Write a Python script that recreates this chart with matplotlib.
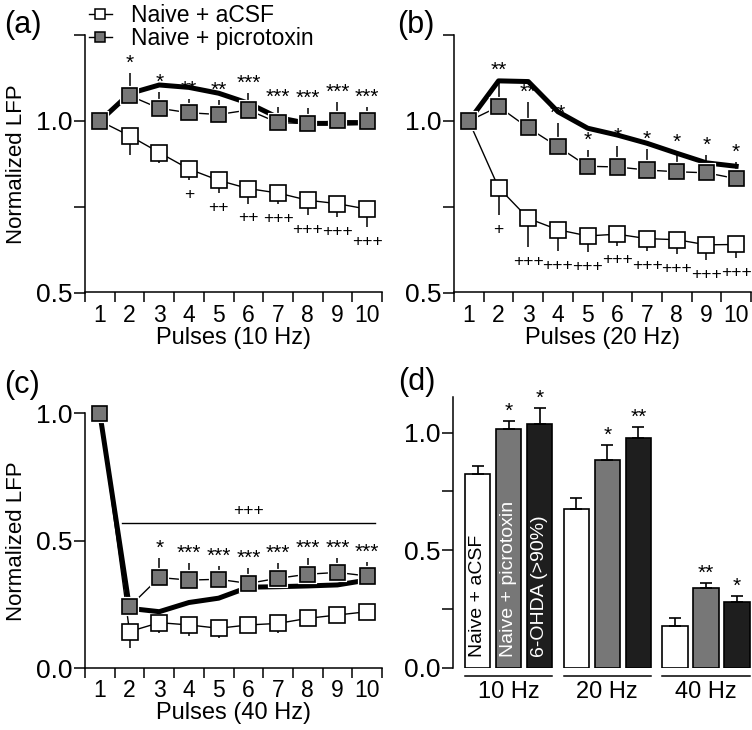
import numpy as np
import matplotlib
matplotlib.use("Agg")
import matplotlib.pyplot as plt
import matplotlib.patheffects as pe
from matplotlib.lines import Line2D

plt.rcParams['font.family'] = ['Liberation Sans', 'DejaVu Sans']

# ---------------- data ----------------
pulses = np.arange(1, 11)

a_acsf = [1.0, 0.957, 0.908, 0.860, 0.827, 0.803, 0.790, 0.769, 0.759, 0.743]
a_acsf_err = [0, 0.057, 0.030, 0.033, 0.037, 0.044, 0.032, 0.044, 0.039, 0.052]
a_picro = [1.0, 1.074, 1.037, 1.024, 1.019, 1.032, 0.995, 0.993, 1.001, 1.0]
a_picro_err = [0, 0.067, 0.049, 0.039, 0.042, 0.049, 0.045, 0.044, 0.055, 0.040]
a_ohda = [1.0, 1.080, 1.105, 1.098, 1.081, 1.052, 1.010, 0.993, 0.993, 0.995]
a_stars = ['', '*', '*', '**', '**', '***', '***', '***', '***', '***']
a_plus = ['', '', '', '+', '++', '++', '+++', '+++', '+++', '+++']

b_acsf = [1.0, 0.806, 0.716, 0.683, 0.665, 0.670, 0.657, 0.654, 0.639, 0.640]
b_acsf_err = [0, 0.081, 0.083, 0.062, 0.047, 0.033, 0.036, 0.043, 0.045, 0.040]
b_picro = [1.0, 1.042, 0.980, 0.925, 0.868, 0.866, 0.857, 0.852, 0.849, 0.832]
b_picro_err = [0, 0.078, 0.076, 0.068, 0.047, 0.062, 0.062, 0.058, 0.052, 0.049]
b_ohda = [1.0, 1.117, 1.115, 1.027, 0.979, 0.959, 0.935, 0.906, 0.878, 0.868]
b_stars = ['', '**', '**', '**', '*', '*', '*', '*', '*', '*']
b_plus = ['', '+', '+++', '+++', '+++', '+++', '+++', '+++', '+++', '+++']

c_acsf = [1.0, 0.144, 0.179, 0.170, 0.157, 0.170, 0.176, 0.196, 0.209, 0.222]
c_acsf_err = [0, 0.066, 0.042, 0.043, 0.039, 0.030, 0.039, 0.025, 0.025, 0.025]
c_picro = [1.0, 0.242, 0.356, 0.346, 0.349, 0.333, 0.353, 0.369, 0.376, 0.362]
c_picro_err = [0, 0.030, 0.075, 0.068, 0.052, 0.062, 0.059, 0.062, 0.058, 0.056]
c_ohda = [1.0, 0.235, 0.222, 0.258, 0.275, 0.318, 0.320, 0.323, 0.327, 0.346]
c_stars = ['', '', '*', '***', '***', '***', '***', '***', '***', '***']
c_bracket_x = [1.74, 10.26]
c_bracket_y = 0.569
c_bracket_label = '+++'

freqs = ['10 Hz', '20 Hz', '40 Hz']
bar_groups = ['Naive + aCSF', 'Naive + picrotoxin', '6-OHDA (>90%)']
bar_acsf = [0.824, 0.677, 0.179]
bar_acsf_err = [0.036, 0.044, 0.034]
bar_picro = [1.017, 0.884, 0.339]
bar_picro_err = [0.034, 0.064, 0.023]
bar_ohda = [1.037, 0.979, 0.281]
bar_ohda_err = [0.067, 0.047, 0.025]
bar_picro_stars = ['*', '*', '**']
bar_ohda_stars = ['*', '**', '*']

# ---------------- style ----------------
GRAY = '#777777'
BLACK_BAR = '#1e1e1e'
W, H = 752, 730
fig = plt.figure(figsize=(W / 100, H / 100), dpi=100)


def px_rect(left, top, right, bottom):
    return [left / W, 1 - bottom / H, (right - left) / W, (bottom - top) / H]


ax_a = fig.add_axes(px_rect(85, 35.25, 382, 292.5))
ax_b = fig.add_axes(px_rect(454, 35.25, 751, 292.5))
ax_c = fig.add_axes(px_rect(85, 413.3, 382, 668.3))
ax_d = fig.add_axes(px_rect(453.3, 396.7, 752, 667.7))

halo = [pe.Stroke(linewidth=3.0, foreground='white'), pe.Normal()]
MS = 11


def style_line_axes(ax, ylim, yticks, ylabels, xlabel, ylabel):
    ax.set_xlim(0.5, 10.5)
    ax.set_ylim(*ylim)
    for s in ['top', 'right']:
        ax.spines[s].set_visible(False)
    for s in ['left', 'bottom']:
        ax.spines[s].set_linewidth(1.1)
    ax.set_xticks(np.arange(0.5, 11, 1))
    ax.set_xticklabels([])
    ax.set_xticks(pulses, minor=True)
    ax.set_xticklabels([str(p) for p in pulses], minor=True, fontsize=16.5)
    ax.tick_params(axis='x', which='major', direction='out', length=7.5, width=1.1)
    ax.tick_params(axis='x', which='minor', length=0, pad=8)
    ax.set_yticks(yticks)
    ax.set_yticklabels(ylabels, fontsize=19)
    ax.tick_params(axis='y', direction='out', length=8, width=1.1, pad=1)
    ax.set_xlabel(xlabel, fontsize=17, labelpad=0)
    if ylabel:
        ax.set_ylabel(ylabel, fontsize=16)
        ax.yaxis.set_label_coords(-0.195, 0.5)


def draw_series(ax, acsf, acsf_err, picro, picro_err, ohda):
    z = np.zeros(len(pulses))
    ax.plot(pulses, acsf, color='black', lw=1.0, zorder=2)
    ax.plot(pulses, picro, color='black', lw=1.0, zorder=2)
    ax.errorbar(pulses, acsf, yerr=[acsf_err, z], fmt='none', ecolor='black',
                elinewidth=1.1, capsize=0, zorder=2)
    ax.errorbar(pulses, picro, yerr=[z, picro_err], fmt='none', ecolor='black',
                elinewidth=1.1, capsize=0, zorder=2)
    ax.plot(pulses, ohda, color='black', lw=3.6, zorder=3)
    ax.plot(pulses, acsf, ls='none', marker='s', ms=MS, mfc='white', mec='black',
            mew=1.2, zorder=4, clip_on=False)
    ax.plot(pulses, picro, ls='none', marker='s', ms=MS, mfc=GRAY, mec='black',
            mew=1.2, zorder=5, clip_on=False, path_effects=halo)


def draw_stars(ax, x, base, labels, size=15, dy=3):
    for xi, yi, lab in zip(x, base, labels):
        if lab:
            ax.annotate(lab, (xi, yi), xytext=(0, dy), textcoords='offset points',
                        ha='center', va='baseline', fontsize=size, zorder=6)


def draw_plus(ax, x, base, labels, size=12.5, dy=-13.5):
    for xi, yi, lab in zip(x, base, labels):
        if lab:
            ax.annotate(lab, (xi, yi), xytext=(0, dy), textcoords='offset points',
                        ha='center', va='baseline', fontsize=size, zorder=6)


# ---- panel a ----
style_line_axes(ax_a, (0.5, 1.25), [0.5, 0.75, 1.0, 1.25], ['0.5', '', '1.0', ''],
                'Pulses (10 Hz)', 'Normalized LFP')
draw_series(ax_a, a_acsf, a_acsf_err, a_picro, a_picro_err, a_ohda)
draw_stars(ax_a, pulses, np.add(a_picro, a_picro_err), a_stars)
draw_plus(ax_a, pulses, np.subtract(a_acsf, a_acsf_err), a_plus)

# ---- panel b ----
style_line_axes(ax_b, (0.5, 1.25), [0.5, 0.75, 1.0, 1.25], ['0.5', '', '1.0', ''],
                'Pulses (20 Hz)', None)
draw_series(ax_b, b_acsf, b_acsf_err, b_picro, b_picro_err, b_ohda)
draw_stars(ax_b, pulses, np.add(b_picro, b_picro_err), b_stars)
draw_plus(ax_b, pulses, np.subtract(b_acsf, b_acsf_err), b_plus)

# ---- panel c ----
style_line_axes(ax_c, (0.0, 1.0), [0.0, 0.5, 1.0], ['0.0', '0.5', '1.0'],
                'Pulses (40 Hz)', 'Normalized LFP')
draw_series(ax_c, c_acsf, c_acsf_err, c_picro, c_picro_err, c_ohda)
draw_stars(ax_c, pulses, np.add(c_picro, c_picro_err), c_stars)
ax_c.plot(c_bracket_x, [c_bracket_y, c_bracket_y], color='black', lw=1.0, clip_on=False)
ax_c.annotate(c_bracket_label, (np.mean(c_bracket_x), c_bracket_y), xytext=(0, 6),
              textcoords='offset points', ha='center', va='baseline', fontsize=12.5)

# ---- panel d ----
centers = np.arange(len(freqs)) * 3.18
offsets = [-1, 0, 1]
bw = 0.82
series = [(bar_acsf, bar_acsf_err, 'white'), (bar_picro, bar_picro_err, GRAY),
          (bar_ohda, bar_ohda_err, BLACK_BAR)]
for k, (vals, errs, col) in enumerate(series):
    xs = centers + offsets[k]
    ax_d.bar(xs, vals, width=bw, color=col, edgecolor='black', linewidth=1.2,
             yerr=[np.zeros(len(vals)), errs], capsize=4,
             error_kw=dict(elinewidth=1.2, capthick=1.2, ecolor='black'), zorder=2)
draw_stars(ax_d, centers + offsets[1], np.add(bar_picro, bar_picro_err), bar_picro_stars)
draw_stars(ax_d, centers + offsets[2], np.add(bar_ohda, bar_ohda_err), bar_ohda_stars)
text_cols = ['black', 'white', 'white']
for k, lab in enumerate(bar_groups):
    ax_d.text(centers[0] + offsets[k], 0.045, lab, rotation=90, ha='center', va='bottom',
              fontsize=14, color=text_cols[k], zorder=4)
ax_d.set_xlim(-1.787, 7.848)
ax_d.set_ylim(0, 1.153)
for s in ['top', 'right', 'bottom']:
    ax_d.spines[s].set_visible(False)
ax_d.spines['left'].set_linewidth(1.1)
ax_d.set_xticks([])
ax_d.set_yticks([0.0, 0.25, 0.5, 0.75, 1.0])
ax_d.set_yticklabels(['0.0', '', '0.5', '', '1.0'], fontsize=19)
ax_d.tick_params(axis='y', direction='out', length=8, width=1.1, pad=1)
for c, lab in zip(centers, freqs):
    ax_d.plot([c - 1 - bw / 2, c + 1 + bw / 2], [-0.034, -0.034], color='black', lw=1.1,
              clip_on=False)
    ax_d.text(c, -0.058, lab, ha='center', va='top', fontsize=17)

# ---- legend ----
handles = [Line2D([], [], color='black', lw=1.0, marker='s', ms=7.5, mfc='white',
                  mec='black', mew=1.1),
           Line2D([], [], color='black', lw=1.0, marker='s', ms=7.5, mfc=GRAY,
                  mec='black', mew=1.1)]
fig.legend(handles, ['Naive + aCSF', 'Naive + picrotoxin'], loc='upper left',
           bbox_to_anchor=(89 / W, 1 - 4 / H), frameon=False, fontsize=16.5,
           handlelength=1.0, handletextpad=0.85, labelspacing=0.0, borderpad=0,
           borderaxespad=0)

# ---- panel labels ----
for lab, (x, y) in zip(['(a)', '(b)', '(c)', '(d)'],
                       [(4, 25), (397, 25), (4, 385), (398, 382)]):
    fig.text(x / W, 1 - y / H, lab, fontsize=22, ha='left', va='center')

fig.savefig('out.png', dpi=100)
